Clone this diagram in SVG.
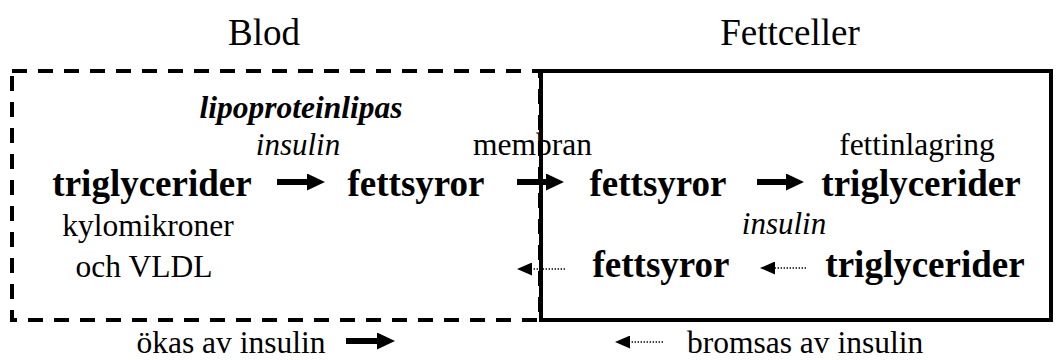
<svg xmlns="http://www.w3.org/2000/svg" width="1057" height="360" viewBox="0 0 1057 360" font-family="'Liberation Serif', 'Times New Roman', serif">
  <style>
    text { font-family: "Liberation Serif", "Times New Roman", serif; fill: #000; }
    .title { font-size: 37px; }
    .reg { font-size: 31.5px; }
    .it { font-size: 31px; font-style: italic; }
    .bi { font-size: 31.5px; font-style: italic; font-weight: bold; }
    .bold { font-size: 37px; font-weight: bold; }
    .solid { stroke: #000; stroke-width: 6; fill: none; }
    .dotted { stroke: #000; stroke-width: 1.4; stroke-dasharray: 1.4 1.6; fill: none; }
  </style>
  <defs>
    <!-- filled head for the thick "promoted" arrows -->
    <marker id="headBig" markerUnits="userSpaceOnUse" markerWidth="18" markerHeight="17" viewBox="0 0 18 17" refX="1" refY="8.5" orient="auto">
      <path d="M0,0 L18,8.5 L0,17 Z" fill="#000"/>
    </marker>
    <!-- small head for the dotted "inhibited" arrows -->
    <marker id="headSmall" markerUnits="userSpaceOnUse" markerWidth="15" markerHeight="13" viewBox="0 0 15 13" refX="1" refY="6.5" orient="auto">
      <path d="M0,0 L15,6.5 L0,13 Z" fill="#000"/>
    </marker>
  </defs>

  <!-- compartments -->
  <g id="blood-compartment">
    <rect x="12" y="71" width="528" height="249" fill="none" stroke="#000" stroke-width="4" stroke-dasharray="15 11"/>
    <text class="title" x="264" y="45" text-anchor="middle">Blod</text>
  </g>
  <g id="fat-cell-compartment">
    <rect x="541" y="71" width="510" height="249" fill="none" stroke="#000" stroke-width="4"/>
    <text class="title" x="790" y="45" text-anchor="middle">Fettceller</text>
  </g>

  <!-- labels and nodes -->
  <g id="enzyme-labels">
    <text class="bi" x="301" y="118" text-anchor="middle">lipoproteinlipas</text>
    <text class="it" x="298" y="155" text-anchor="middle">insulin</text>
  </g>
  <g id="membrane-label">
    <text class="reg" x="473" y="155">membran</text>
  </g>
  <g id="storage-label">
    <text class="reg" x="917" y="155" text-anchor="middle">fettinlagring</text>
  </g>
  <g id="tg-blood">
    <text class="bold" x="152" y="196" text-anchor="middle">triglycerider</text>
    <text class="reg" x="148" y="236" text-anchor="middle">kylomikroner</text>
    <text class="reg" x="144" y="277" text-anchor="middle">och VLDL</text>
  </g>
  <g id="fa-blood">
    <text class="bold" x="416" y="196" text-anchor="middle">fettsyror</text>
  </g>
  <g id="fa-cell-upper">
    <text class="bold" x="658" y="196" text-anchor="middle">fettsyror</text>
  </g>
  <g id="tg-cell-upper">
    <text class="bold" x="921" y="196" text-anchor="middle">triglycerider</text>
  </g>
  <g id="insulin-cell">
    <text class="it" x="784" y="234" text-anchor="middle">insulin</text>
  </g>
  <g id="fa-cell-lower">
    <text class="bold" x="661" y="277" text-anchor="middle">fettsyror</text>
  </g>
  <g id="tg-cell-lower">
    <text class="bold" x="925" y="277" text-anchor="middle">triglycerider</text>
  </g>
  <g id="legend">
    <text class="reg" x="231" y="353" text-anchor="middle">ökas av insulin</text>
    <text class="reg" x="687" y="353">bromsas av insulin</text>
  </g>

  <!-- connectors -->
  <g id="connectors">
    <!-- promoted steps: thick solid arrows -->
    <line class="solid" x1="277" y1="182" x2="308" y2="182" marker-end="url(#headBig)"/>
    <line class="solid" x1="517" y1="182" x2="547" y2="182" marker-end="url(#headBig)"/>
    <line class="solid" x1="757" y1="182" x2="787" y2="182" marker-end="url(#headBig)"/>
    <line class="solid" x1="346" y1="341" x2="378" y2="341" marker-end="url(#headBig)"/>
    <!-- inhibited steps: dotted arrows with small heads -->
    <line class="dotted" x1="565" y1="269" x2="531" y2="269" marker-end="url(#headSmall)"/>
    <line class="dotted" x1="806" y1="268" x2="774" y2="268" marker-end="url(#headSmall)"/>
    <line class="dotted" x1="663" y1="342" x2="629" y2="342" marker-end="url(#headSmall)"/>
  </g>
</svg>
